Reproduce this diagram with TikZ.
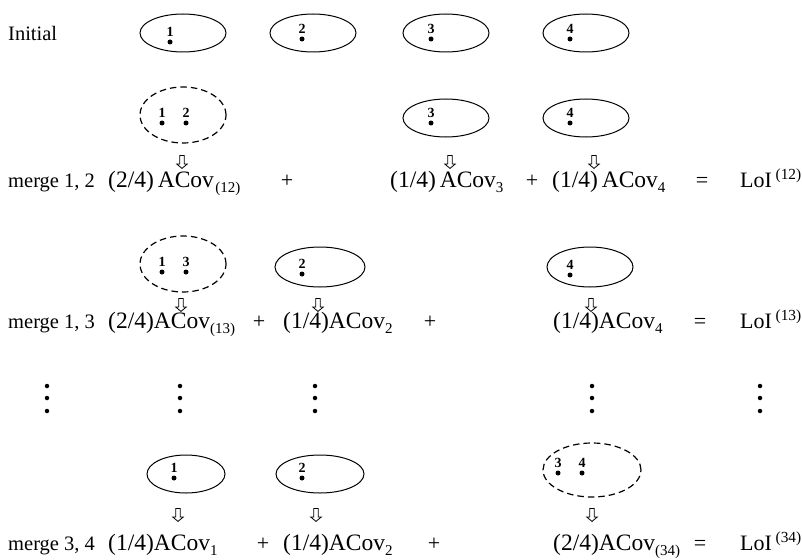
\documentclass[tikz,border=0pt]{standalone}
\usepackage{fontspec}
\setmainfont{Liberation Serif}
\usetikzlibrary{shapes.geometric, shapes.arrows, positioning}
\newcommand{\lowsub}[1]{\raisebox{-5pt}{\fontsize{15}{15}\selectfont#1}}
\tikzset{
  % clusters: solid = single point, dashed = merged pair
  clus/.style={
    ellipse, draw, line width=1pt, inner sep=0pt,
    minimum width=86pt, minimum height=38pt
  },
  mclus/.style={clus, line width=1.2pt, dash pattern=on 6.5pt off 4pt, minimum height=56pt},
  % points inside a cluster, labelled with their index
  pt/.style={
    circle, fill, inner sep=0pt, minimum size=5pt,
    label={[font=\bfseries\fontsize{14}{14}\selectfont, inner sep=0pt, label distance=2.5pt]above:#1}
  },
  vdot/.style={circle, fill, inner sep=0pt, minimum size=4.5pt},
  %
  % text of the rows
  rowlab/.style={anchor=base west, inner sep=0pt, font=\fontsize{20.5}{24}\selectfont},
  term/.style={anchor=base west, inner sep=0pt, font=\fontsize{23.5}{28}\selectfont},
  res/.style={anchor=base west, inner sep=0pt, font=\fontsize{22}{26}\selectfont},
  op/.style={anchor=base, inner sep=0pt, font=\fontsize{22}{26}\selectfont},
  %
  % hollow down arrow from cluster to its term
  downarr/.style={
    single arrow, draw, line width=0.8pt, shape border rotate=270,
    minimum height=13pt, inner sep=1.8pt,
    single arrow head extend=3pt, single arrow tip angle=100
  },
}
\begin{document}
\begin{tikzpicture}[x=1pt, y=-1pt]
  \useasboundingbox (0,0) rectangle (802,559);

  %% ── Initial clusters ──────────────────────────────────────────────────────
  \node[rowlab] (lab1) at (8,41) {Initial};
  \node[clus] (a1) at (183,33) {};
  \node[clus] (a2) at (313,33) {};
  \node[clus] (a3) at (446,33) {};
  \node[clus] (a4) at (586,33) {};
  \node[pt=1] (a1p) at (170,42) {};
  \node[pt=2] (a2p) at (302,39) {};
  \node[pt=3] (a3p) at (431,39) {};
  \node[pt=4] (a4p) at (570,39) {};

  %% ── merge 1, 2 ────────────────────────────────────────────────────────────
  \node[mclus] (b12) at (183,115) {};
  \node[clus]  (b3)  at (446,118) {};
  \node[clus]  (b4)  at (586,118) {};
  \node[pt=1] (b12p) at (162,123) {};
  \node[pt=2] (b12q) at (186,123) {};
  \node[pt=3] (b3p)  at (431,123) {};
  \node[pt=4] (b4p)  at (570,123) {};

  \node[downarr] (b12d) at (182,161) {};
  \node[downarr] (b3d)  at (450,161) {};
  \node[downarr] (b4d)  at (594,161) {};

  \node[rowlab] (lab2) at (8,187)   {merge 1, 2};
  \node[term]   (t12)  at (108,187) {(2/4)\,ACov\kern1.5pt\lowsub{(12)}};
  \node[op]     (o21)  at (287,187) {+};
  \node[term]   (t3)   at (390,187) {(1/4)\,ACov\lowsub{3}};
  \node[op]     (o22)  at (532,187) {+};
  \node[term]   (t4)   at (552,187) {(1/4)\,ACov\lowsub{4}};
  \node[op]     (eq2)  at (702,187) {=};
  \node[res]    (l12)  at (740,187) {LoI\,\textsuperscript{(12)}};

  %% ── merge 1, 3 ────────────────────────────────────────────────────────────
  \node[mclus] (c13) at (183,264) {};
  \node[clus, minimum width=90pt, minimum height=40pt] (c2) at (320,267) {};
  \node[clus, minimum height=40pt] (c4) at (590,267) {};
  \node[pt=1] (c13p) at (162,272) {};
  \node[pt=3] (c13q) at (186,272) {};
  \node[pt=2] (c2p)  at (302,274) {};
  \node[pt=4] (c4p)  at (570,275) {};

  \node[downarr] (c13d) at (181,304) {};
  \node[downarr] (c2d)  at (318,304) {};
  \node[downarr] (c4d)  at (591,304) {};

  \node[rowlab] (lab3) at (8,328)   {merge 1, 3};
  \node[term]   (t13)  at (108,328) {(2/4)ACov\lowsub{(13)}};
  \node[op]     (o31)  at (259,328) {+};
  \node[term]   (t2)   at (283,328) {(1/4)ACov\lowsub{2}};
  \node[op]     (o32)  at (430,328) {+};
  \node[term]   (t4b)  at (553,328) {(1/4)ACov\lowsub{4}};
  \node[op]     (eq3)  at (700,328) {=};
  \node[res]    (l13)  at (740,328) {LoI\,\textsuperscript{(13)}};

  %% ── vertical dots ─────────────────────────────────────────────────────────
  \foreach \x [count=\i] in {47,180,315,592,760}
    \foreach \y [count=\j] in {386,398,411}
      \node[vdot] (v\i-\j) at (\x,\y) {};

  %% ── merge 3, 4 ────────────────────────────────────────────────────────────
  \node[clus, minimum width=78pt] (d1) at (186,474) {};
  \node[clus, minimum width=88pt] (d2) at (320,474) {};
  \node[mclus, minimum width=98pt, minimum height=54pt] (d34) at (592,470) {};
  \node[pt=1] (d1p)  at (174,478) {};
  \node[pt=2] (d2p)  at (302,478) {};
  \node[pt=3] (d34p) at (558,473) {};
  \node[pt=4] (d34q) at (582,473) {};

  \node[downarr] (d1d)  at (178,514) {};
  \node[downarr] (d2d)  at (316,514) {};
  \node[downarr] (d34d) at (592,514) {};

  \node[rowlab] (lab4) at (8,550)   {merge 3, 4};
  \node[term]   (t1)   at (108,550) {(1/4)ACov\lowsub{1}};
  \node[op]     (o41)  at (263,550) {+};
  \node[term]   (t2b)  at (283,550) {(1/4)ACov\lowsub{2}};
  \node[op]     (o42)  at (434,550) {+};
  \node[term]   (t34)  at (553,550) {(2/4)ACov\lowsub{(34)}};
  \node[op]     (eq4)  at (700,550) {=};
  \node[res]    (l34)  at (740,550) {LoI\,\textsuperscript{(34)}};

\end{tikzpicture}
\end{document}
